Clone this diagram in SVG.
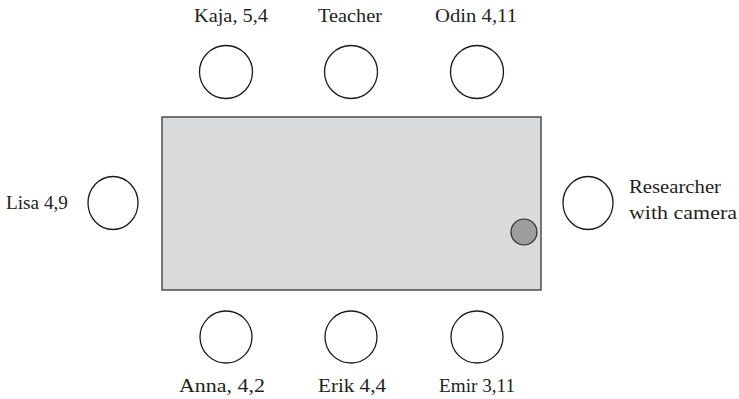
<svg xmlns="http://www.w3.org/2000/svg" width="739" height="399" viewBox="0 0 739 399">
<style>
.seat{fill:#fff;stroke:#1a1a1a;stroke-width:1.3}
.lbl{font-family:'Liberation Serif','DejaVu Serif',serif;font-size:19px;fill:#231f20}
.mid{text-anchor:middle}
</style>
<rect width="739" height="399" fill="#fff"/>
<g id="table">
<rect x="162" y="117" width="379" height="173" fill="#d9dadc" stroke="#4d4d4d" stroke-width="1.5"/>
</g>
<g id="camera"><circle cx="524" cy="232" r="13" fill="#9d9d9f" stroke="#2a2a2a" stroke-width="1.2"/></g>
<g id="kaja"><circle class="seat" cx="226" cy="72" r="26.5"/><text class="lbl mid" x="231" y="22" textLength="74" lengthAdjust="spacingAndGlyphs">Kaja, 5,4</text></g>
<g id="teacher"><circle class="seat" cx="351" cy="72" r="26.5"/><text class="lbl mid" x="350" y="22" textLength="64" lengthAdjust="spacingAndGlyphs">Teacher</text></g>
<g id="odin"><circle class="seat" cx="477" cy="72" r="26.5"/><text class="lbl mid" x="476" y="22" textLength="82" lengthAdjust="spacingAndGlyphs">Odin 4,11</text></g>
<g id="lisa"><ellipse class="seat" cx="113" cy="203" rx="25" ry="26.5"/><text class="lbl" x="6" y="209" textLength="62" lengthAdjust="spacingAndGlyphs">Lisa 4,9</text></g>
<g id="researcher"><ellipse class="seat" cx="588" cy="203" rx="25" ry="26.5"/><text class="lbl" x="629" y="193" textLength="92" lengthAdjust="spacingAndGlyphs">Researcher</text><text class="lbl" x="629" y="219" textLength="108" lengthAdjust="spacingAndGlyphs">with camera</text></g>
<g id="anna"><circle class="seat" cx="226" cy="337" r="26"/><text class="lbl mid" x="222" y="392" textLength="86" lengthAdjust="spacingAndGlyphs">Anna, 4,2</text></g>
<g id="erik"><circle class="seat" cx="351" cy="337" r="26"/><text class="lbl mid" x="352" y="392" textLength="68" lengthAdjust="spacingAndGlyphs">Erik 4,4</text></g>
<g id="emir"><circle class="seat" cx="477" cy="337" r="26"/><text class="lbl mid" x="477" y="392" textLength="76" lengthAdjust="spacingAndGlyphs">Emir 3,11</text></g>
<g id="connectors"/>
</svg>
